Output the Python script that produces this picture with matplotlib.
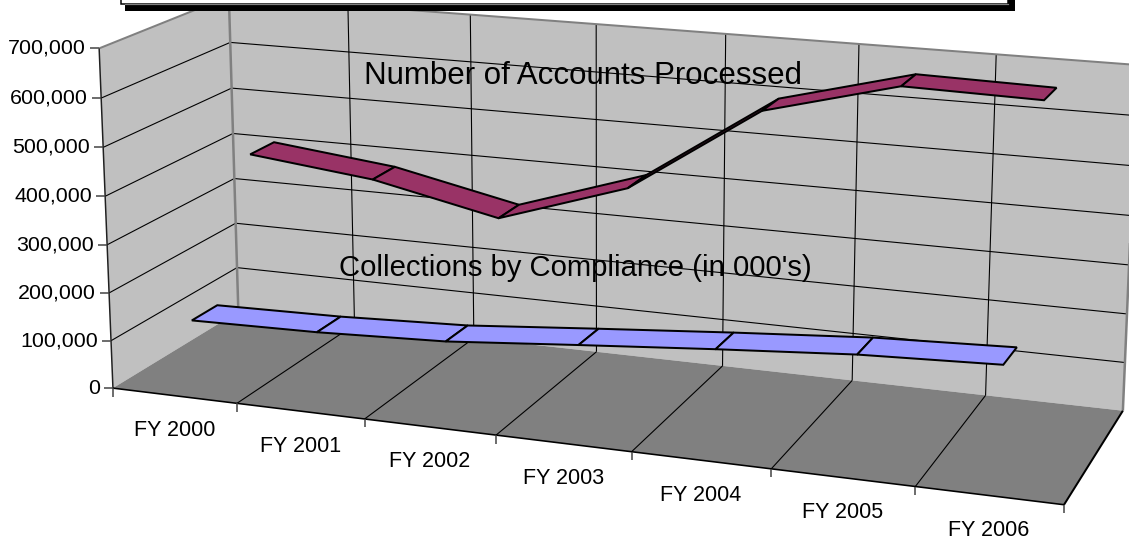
#!/usr/bin/env python3
# -*- coding: utf-8 -*-
"""
3D style ribbon chart, accounts processed and collections per fiscal year
"""
import numpy as np
import matplotlib
matplotlib.use('Agg')
import matplotlib.pyplot as plt
from matplotlib.patches import Polygon, Rectangle

# DATA
years = ['FY 2000', 'FY 2001', 'FY 2002', 'FY 2003', 'FY 2004', 'FY 2005', 'FY 2006']
accounts = [412000, 383000, 327000, 415000, 596000, 667000, 662000]
collections = [133000, 138000, 149000, 172000, 194000, 214000, 225000]
value_ticks = [0, 100000, 200000, 300000, 400000, 500000, 600000, 700000]
accounts_label = 'Number of Accounts Processed'
collections_label = "Collections by Compliance (in 000's)"

plt.rcParams['font.family'] = ['Liberation Sans', 'DejaVu Sans']

W, H = 1129, 542
PX = 0.72  # one pixel in points at dpi 100

# CAMERA: fit a projection (category, depth, value/100000) -> pixel
front = [(113, 387.5), (237, 402.7), (365, 419), (497, 436), (631, 452), (771, 469), (914, 486), (1065, 505)]
back = [(238, 312.5), (354, 325), (473, 338), (597, 352), (723, 366), (853, 381), (985, 395), (1123, 411)]
left_back = [(237, 268), (236, 222), (235, 178), (233, 134), (232, 88), (230, 42), (228.5, -3)]
left_front = [(111, 341), (109, 293), (107, 245), (105, 196.7), (103, 146.7), (101, 98.3), (99.5, 48)]
col6 = [(987, 345), (988, 301), (990, 252), (991.7, 203), (993, 153), (995, 104), (997, 55)]

pairs = []
for i in range(8):
    pairs.append(((i, 0, 0), front[i]))
    pairs.append(((i, 1, 0), back[i]))
for i in range(7):
    pairs.append(((0, 1, i + 1), left_back[i]))
    pairs.append(((0, 0, i + 1), left_front[i]))
    pairs.append(((6, 1, i + 1), col6[i]))
pairs.append(((5, 1, 7), (858, 44)))

rows = []
for (x, d, v), (u, w) in pairs:
    rows.append([x, d, v, 1, 0, 0, 0, 0, -u*x, -u*d, -u*v, -u])
    rows.append([0, 0, 0, 0, x, d, v, 1, -w*x, -w*d, -w*v, -w])
P = np.linalg.svd(np.array(rows, dtype=float))[2][-1].reshape(3, 4)


def project(x, d, v):
    q = P @ np.array([x, d, v / 100000, 1.0])
    return q[0] / q[2], q[1] / q[2]


fig = plt.figure(figsize=(W / 100, H / 100), dpi=100, facecolor='white')
ax = fig.add_axes([0, 0, 1, 1])
ax.set_xlim(0, W)
ax.set_ylim(H, 0)
ax.axis('off')

top = value_ticks[-1]
n = len(years)

# WALLS AND FLOOR
ax.add_patch(Polygon([project(0, 0, 0), project(0, 0, top), project(0, 1, top), project(0, 1, 0)],
                     fc='#C0C0C0', ec='none', zorder=1))
ax.add_patch(Polygon([project(0, 1, 0), project(0, 1, top), project(n, 1, top), project(n, 1, 0)],
                     fc='#C0C0C0', ec='none', zorder=1))
ax.add_patch(Polygon([project(0, 0, 0), project(0, 1, 0), project(n, 1, 0), project(n, 0, 0)],
                     fc='#808080', ec='none', zorder=1))


def seg(a, b, color='black', lw=1.0, z=2):
    ax.plot([a[0], b[0]], [a[1], b[1]], color=color, lw=lw * PX, zorder=z, solid_capstyle='butt')


# GRIDLINES
for t in value_ticks[1:-1]:
    seg(project(0, 0, t), project(0, 1, t), lw=1.1)
    seg(project(0, 1, t), project(n, 1, t), lw=1.1)
for i in range(1, n):
    seg(project(i, 1, 0), project(i, 1, top), lw=1.1)
    seg(project(i, 0, 0), project(i, 1, 0), lw=1.1)

# EDGES
seg(project(0, 0, top), project(0, 1, top), '#808080', 2, 3)
seg(project(0, 1, top), project(n, 1, top), '#808080', 2, 3)
seg(project(0, 1, 0), project(0, 1, top), '#808080', 2.5, 3)
seg(project(n, 1, 0), project(n, 1, top), '#808080', 2.5, 3)
seg(project(0, 0, 0), project(0, 0, top), '#202020', 1.5, 3)
seg(project(0, 0, 0), project(n, 0, 0), 'black', 1.6, 3)
seg(project(n, 0, 0), project(n, 1, 0), 'black', 2, 3)

# TICKS AND LABELS
for t in value_ticks:
    u, w = project(0, 0, t)
    seg((u - 9, w), (u, w), '#404040', 1.5, 3)
    ax.text(u - 13, w, f'{t:,}', ha='right', va='center', fontsize=15.4, color='black', zorder=6)
for i in range(n + 1):
    u, w = project(i, 0, 0)
    seg((u, w), (u, w + 8.5), '#404040', 1.5, 3)
for i, year in enumerate(years):
    u, w = project(i + 0.5, 0, 0)
    ax.text(u, w + 35, year, ha='center', va='center', fontsize=15.5, color='black', zorder=6)


# RIBBONS
def ribbon(values, d0, d1, color):
    for i in range(len(values) - 1):
        x0, x1 = i + 0.5, i + 1.5
        pts = [project(x0, d0, values[i]), project(x1, d0, values[i + 1]),
               project(x1, d1, values[i + 1]), project(x0, d1, values[i])]
        ax.add_patch(Polygon(pts, fc=color, ec='black', lw=2 * PX, joinstyle='miter', zorder=4 + i * 0.01))


ribbon(collections, 0.15, 0.35, '#9999FF')
ribbon(accounts, 0.65, 0.85, '#993366')

# SERIES NAMES
ax.text(583, 84.5, accounts_label, ha='center', va='baseline', fontsize=22.5, color='black', zorder=6)
ax.text(575, 275.5, collections_label, ha='center', va='baseline', fontsize=21.1, color='black', zorder=6)

# TITLE BOX, cut by the top of the image
ax.add_patch(Rectangle((125, -20), 890, 30.7, fc='black', ec='none', zorder=7))
ax.add_patch(Rectangle((121, -20), 887, 23.5, fc='white', ec='black', lw=1.5 * PX, zorder=8))
ax.plot([125, 1008], [3.5, 3.5], color='#808080', lw=1.2 * PX, zorder=9)

fig.savefig('out.png', dpi=100)
